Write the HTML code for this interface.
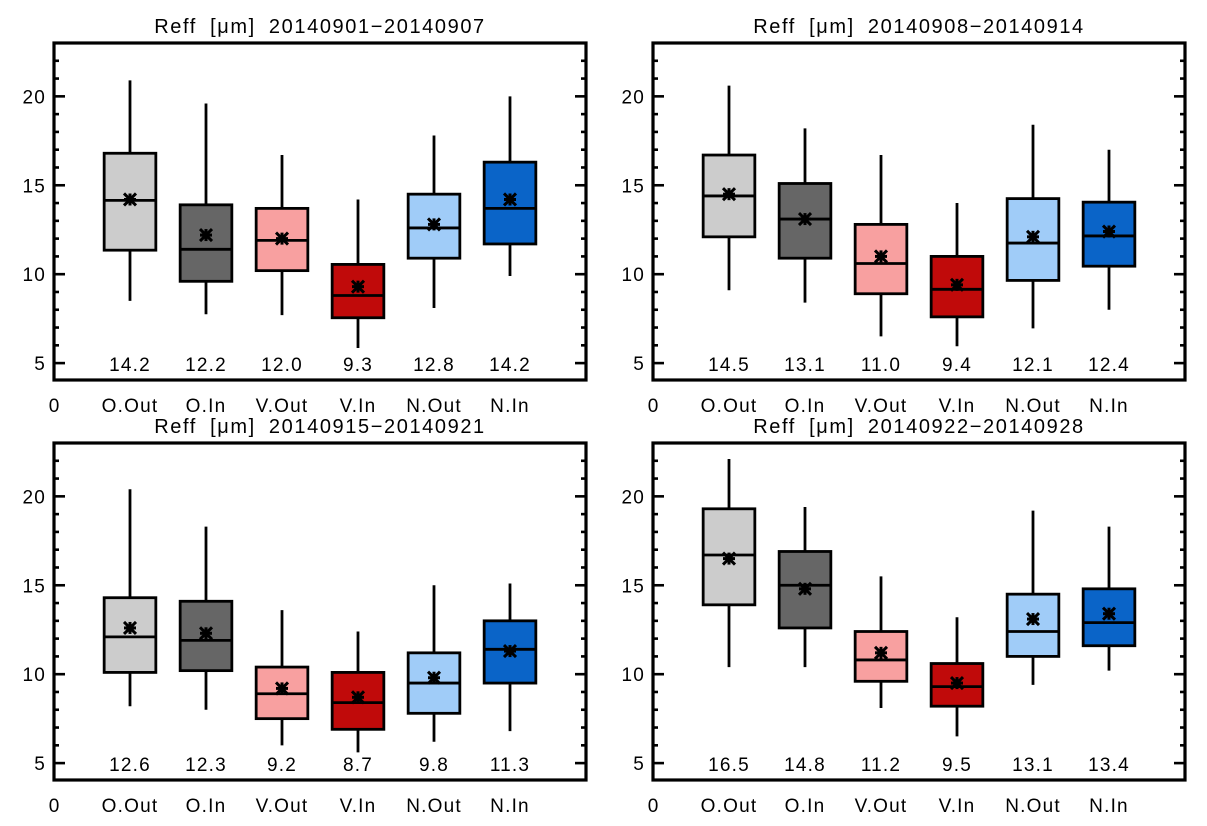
<!DOCTYPE html>
<html><head><meta charset="utf-8"><style>
html,body{margin:0;padding:0;background:#fff;}
svg{display:block;font-family:"Liberation Sans","DejaVu Sans",sans-serif;}
</style></head><body>
<svg id="chart" width="1207" height="826" viewBox="0 0 1207 826"></svg>
<script>
const categories = ["O.Out","O.In","V.Out","V.In","N.Out","N.In"];
const titles = ["20140901\u221220140907","20140908\u221220140914","20140915\u221220140921","20140922\u221220140928"];
const colors = ["#cccccc","#666666","#f8a0a0","#c00a0a","#a0ccf8","#0a64c8"];
// each panel: per category [whiskerHigh, q3, median, q1, whiskerLow]
const p1Stats = [[20.9,16.8,14.15,11.35,8.5],[19.6,13.9,11.4,9.6,7.75],[16.7,13.7,11.9,10.2,7.7],[14.2,10.55,8.8,7.55,5.85],[17.8,14.5,12.6,10.9,8.1],[20.0,16.3,13.7,11.7,9.9]];
const p1Means = [14.2,12.2,12.0,9.3,12.8,14.2];
const p2Stats = [[20.6,16.7,14.4,12.1,9.1],[18.2,15.1,13.1,10.9,8.4],[16.7,12.8,10.6,8.9,6.5],[14.0,11.0,9.15,7.6,5.95],[18.4,14.25,11.75,9.65,6.95],[17.0,14.05,12.15,10.45,8.0]];
const p2Means = [14.5,13.1,11.0,9.4,12.1,12.4];
const p3Stats = [[20.4,14.3,12.1,10.1,8.2],[18.3,14.1,11.9,10.2,8.0],[13.6,10.4,8.9,7.5,6.0],[12.4,10.1,8.4,6.9,5.6],[15.0,11.2,9.5,7.8,6.2],[15.1,13.0,11.4,9.5,6.8]];
const p3Means = [12.6,12.3,9.2,8.7,9.8,11.3];
const p4Stats = [[22.1,19.3,16.7,13.9,10.4],[19.4,16.9,15.0,12.6,10.4],[15.5,12.4,10.8,9.6,8.1],[13.2,10.6,9.3,8.2,6.5],[19.2,14.5,12.4,11.0,9.4],[18.3,14.8,12.9,11.6,10.2]];
const p4Means = [16.5,14.8,11.2,9.5,13.1,13.4];
const yTicks = [5,10,15,20];
const panelStats = [p1Stats,p2Stats,p3Stats,p4Stats];
const panelMeans = [p1Means,p2Means,p3Means,p4Means];
const origins = [[54,43],[653,43],[54,443],[653,443]];

const NS="http://www.w3.org/2000/svg";
const svg=document.getElementById('chart');
function mk(tag,attrs,parent){const e=document.createElementNS(NS,tag);for(const k in attrs)e.setAttribute(k,attrs[k]);(parent||svg).appendChild(e);return e;}

const W=532,H=337,YMIN=4.05,YMAX=23,XMAX=7;
const FS=19,LS=1.2;
panelStats.forEach((stats,p)=>{
  const [ox,oy]=origins[p];
  const g=mk('g',{});
  
  
  const xs=v=>ox+v*W/XMAX;
  const ys=v=>oy+H-(v-YMIN)*H/(YMAX-YMIN);
  const t=mk('text',{x:ox+W/2,y:oy-10,'text-anchor':'middle','font-size':20,'letter-spacing':1.6,'word-spacing':6},g);
  t.textContent='Reff [\u03bcm] '+titles[p];
  
  
  for(let v=5;v<=22;v++){
    const major=yTicks.includes(v);const L=major?11:5;
    mk('line',{x1:ox,x2:ox+L,y1:ys(v),y2:ys(v),stroke:'#000','stroke-width':2.6},g);
    mk('line',{x1:ox+W,x2:ox+W-L,y1:ys(v),y2:ys(v),stroke:'#000','stroke-width':2.6},g);
  }
  yTicks.forEach(v=>{
    const tl=mk('text',{x:ox-8,y:ys(v)+7,'text-anchor':'end','font-size':FS,'letter-spacing':LS},g);
    tl.textContent=v;
    
    
  });
  const z=mk('text',{x:ox,y:oy+H+32,'text-anchor':'middle','font-size':FS},g);
  z.textContent='0';
  
  
  stats.forEach((s,i)=>{
    const cx=xs(i+1),hw=0.34*W/XMAX;
    const b=mk('g',{},g);
    
    
    mk('line',{x1:cx,x2:cx,y1:ys(s[0]),y2:ys(s[4]),stroke:'#000','stroke-width':2.8},b);
    mk('rect',{x:cx-hw,y:ys(s[1]),width:2*hw,height:ys(s[3])-ys(s[1]),fill:colors[i],stroke:'#000','stroke-width':2.8},b);
    mk('line',{x1:cx-hw,x2:cx+hw,y1:ys(s[2]),y2:ys(s[2]),stroke:'#000','stroke-width':2.8},b);
    const my=ys(panelMeans[p][i]),r=6;
    const m=mk('g',{stroke:'#000','stroke-width':3},b);
    
    
    mk('line',{x1:cx-r,x2:cx+r,y1:my,y2:my},m);
    mk('line',{x1:cx,x2:cx,y1:my-r,y2:my+r},m);
    mk('line',{x1:cx-r,x2:cx+r,y1:my-r,y2:my+r},m);
    mk('line',{x1:cx-r,x2:cx+r,y1:my+r,y2:my-r},m);
    const vt=mk('text',{x:cx,y:oy+H-9,'text-anchor':'middle','font-size':FS,'letter-spacing':LS},g);
    vt.textContent=panelMeans[p][i].toFixed(1);
    
    
    const ct=mk('text',{x:cx,y:oy+H+32,'text-anchor':'middle','font-size':FS,'letter-spacing':LS},g);
    ct.textContent=categories[i];
    
    
  });
  const fr=mk('rect',{x:ox,y:oy,width:W,height:H,fill:'none',stroke:'#000','stroke-width':3.2},g);
  
  
});
</script>
</body></html>
